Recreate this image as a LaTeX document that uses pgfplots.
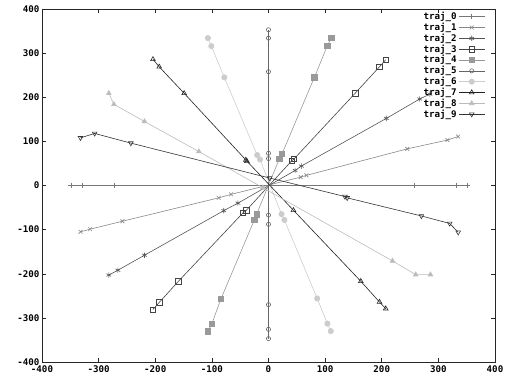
\documentclass[border=0pt]{standalone}
\usepackage{pgfplots}
\pgfplotsset{compat=1.18}
\usepackage{fontspec}
\setmainfont{DejaVu Sans Mono}
\definecolor{c0}{HTML}{777777}
\definecolor{c1}{HTML}{888888}
\definecolor{c2}{HTML}{555555}
\definecolor{c3}{HTML}{444444}
\definecolor{c4}{HTML}{999999}
\definecolor{c5}{HTML}{666666}
\definecolor{c6}{HTML}{CCCCCC}
\definecolor{c7}{HTML}{222222}
\definecolor{c8}{HTML}{BBBBBB}
\definecolor{c9}{HTML}{333333}
\begin{document}
\begin{tikzpicture}
\begin{axis}[
  scale only axis, width=453bp, height=353bp,
  at={(0,0)}, anchor=south west,
  xmin=-400, xmax=400, ymin=-400, ymax=400,
  xtick={-400,-300,...,400}, ytick={-400,-300,...,400},
  tick align=inside, major tick length=4bp,
  axis line style={line width=0.6pt, color=black!85},
  tick style={line width=0.5pt, color=black!85},
  /pgf/number format/assume math mode=true,
  ticklabel style={font=\bfseries\fontsize{9.2}{10}\selectfont},
  xticklabel style={yshift=-0.5bp},
  yticklabel style={xshift=1bp},
  legend plot pos=right,
  legend cell align=right,
  legend style={at={(1,1)}, anchor=north east, draw=none, fill=none,
    font=\bfseries\fontsize{9.2}{10.6}\selectfont, row sep=-2.1pt,
    inner sep=2pt, xshift=-8bp, yshift=1bp},
  legend image code/.code={\draw[mark repeat=2,mark phase=2] plot coordinates {(0cm,0cm) (0.45cm,0cm) (0.9cm,0cm)};},
  every axis plot/.append style={line width=0.6pt, mark size=2.7pt},
]
\addplot[c0, mark=+, mark options={solid}] coordinates {(-349,0) (-329,0) (-272,0) (258,0) (332,0) (351,0)};
\addlegendentry{traj\_0}
\addplot[c1, mark=x] coordinates {(-332,-105) (-315,-99) (-258,-81) (-88,-28) (-66,-20) (57,19) (67,23) (245,83) (316,103) (335,111)};
\addlegendentry{traj\_1}
\addplot[c2, mark=asterisk] coordinates {(-282,-203) (-266,-192) (-219,-158) (-79,-57) (-54,-40) (47,34) (58,44) (208,152) (267,196) (285,207)};
\addlegendentry{traj\_2}
\addplot[c3, mark=square] coordinates {(-204,-281) (-193,-265) (-159,-217) (-45,-62) (-39,-56) (41,56) (45,60) (153,209) (196,269) (207,285)};
\addlegendentry{traj\_3}
\addplot[c4, mark=square*, mark options={fill=c4}] coordinates {(-107,-330) (-100,-313) (-84,-257) (-25,-78) (-21,-65) (19,60) (24,72) (81,245) (104,317) (111,335)};
\addlegendentry{traj\_4}
\addplot[c5, mark=o, mark size=2.1pt] coordinates {(0,353) (0,334) (0,258) (0,73) (0,61) (0,-67) (0,-88) (0,-270) (0,-326) (0,-347)};
\addlegendentry{traj\_5}
\addplot[c6, mark=*, mark options={fill=c6}] coordinates {(-107,334) (-101,316) (-78,245) (-20,69) (-15,59) (23,-65) (28,-78) (86,-256) (104,-313) (110,-330)};
\addlegendentry{traj\_6}
\addplot[c7, mark=triangle] coordinates {(-204,286) (-193,269) (-149,209) (-40,58) (-38,55) (44,-56) (163,-217) (196,-264) (207,-279)};
\addlegendentry{traj\_7}
\addplot[c8, mark=triangle*, mark options={fill=c8}] coordinates {(-282,209) (-273,184) (-219,145) (-123,77) (-10,-5) (219,-171) (260,-202) (286,-202)};
\addlegendentry{traj\_8}
\addplot[c9, mark=triangle, mark options={rotate=180}] coordinates {(-332,108) (-307,118) (-243,96) (2,17) (135,-25) (139,-28) (270,-69) (320,-86) (335,-106)};
\addlegendentry{traj\_9}
\end{axis}
\pgfresetboundingbox
\path (-42bp,-14bp) rectangle (465bp,362bp);
\end{tikzpicture}
\end{document}
